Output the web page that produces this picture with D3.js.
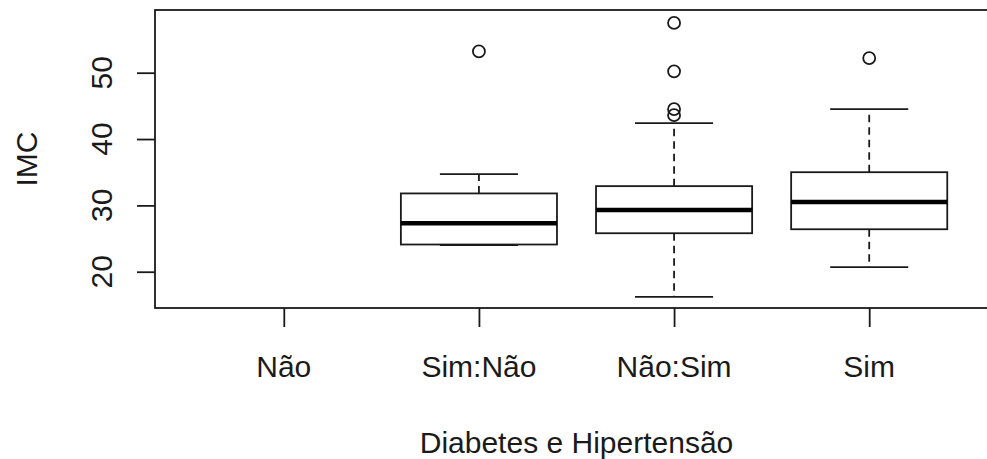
<!DOCTYPE html>
<html>
<head>
<meta charset="utf-8">
<script src="https://cdn.jsdelivr.net/npm/d3@7"></script>
<style>
  body { margin: 0; background: #fff; }
  svg { display: block; }
  text { font-family: "Liberation Sans", Arial, sans-serif; fill: #1a1a1a; }
</style>
</head>
<body>
<div id="chart"></div>
<script>
// data
const categories = ["Não", "Sim:Não", "Não:Sim", "Sim"];
const whiskerLow  = [null, 24.0, 16.2, 20.7];
const q1          = [null, 24.1, 25.8, 26.4];
const median      = [null, 27.3, 29.3, 30.5];
const q3          = [null, 31.8, 32.9, 35.0];
const whiskerHigh = [null, 34.7, 42.4, 44.5];
const outliers    = [[], [53.2], [57.5, 50.2, 44.5, 43.6], [52.2]];
const yTicks = [20, 30, 40, 50];

const width = 987, height = 459;
const plotLeft = 155, plotRight = 998, plotTop = 10, plotBottom = 308;
const ink = "#1a1a1a";
const lw = 1.8;

const svg = d3.select("#chart").append("svg")
  .attr("width", width)
  .attr("height", height);

const x = d3.scaleLinear()
  .domain([0.34, categories.length + 0.66])
  .range([plotLeft, plotRight]);

const y = d3.scaleLinear()
  .domain([14.53, 59.45])
  .range([plotBottom, plotTop]);

const boxW = x(0.8) - x(0);
const capW = boxW / 2;

const groups = categories.map((c, i) => ({
  cat: c, pos: i + 1,
  lo: whiskerLow[i], q1: q1[i], med: median[i], q3: q3[i], hi: whiskerHigh[i],
  out: outliers[i]
}));

const g = svg.append("g");
const filled = groups.filter(d => d.med != null);

// whiskers (dashed)
g.selectAll(".wh-up").data(filled).join("line")
  .attr("x1", d => x(d.pos)).attr("x2", d => x(d.pos))
  .attr("y1", d => y(d.q3)).attr("y2", d => y(d.hi))
  .attr("stroke", ink).attr("stroke-width", lw)
  .attr("stroke-dasharray", "7.5,5");
g.selectAll(".wh-lo").data(filled).join("line")
  .attr("x1", d => x(d.pos)).attr("x2", d => x(d.pos))
  .attr("y1", d => y(d.q1)).attr("y2", d => y(d.lo))
  .attr("stroke", ink).attr("stroke-width", lw)
  .attr("stroke-dasharray", "7.5,5");

// caps
["lo", "hi"].forEach(k => {
  g.selectAll(".cap-" + k).data(filled).join("line")
    .attr("x1", d => x(d.pos) - capW / 2).attr("x2", d => x(d.pos) + capW / 2)
    .attr("y1", d => y(d[k])).attr("y2", d => y(d[k]))
    .attr("stroke", ink).attr("stroke-width", lw);
});

// box
g.selectAll(".box").data(filled).join("rect")
  .attr("x", d => x(d.pos) - boxW / 2)
  .attr("width", boxW)
  .attr("y", d => y(d.q3))
  .attr("height", d => y(d.q1) - y(d.q3))
  .attr("fill", "#fff")
  .attr("stroke", ink).attr("stroke-width", lw);

// median
g.selectAll(".med").data(filled).join("line")
  .attr("x1", d => x(d.pos) - boxW / 2).attr("x2", d => x(d.pos) + boxW / 2)
  .attr("y1", d => y(d.med)).attr("y2", d => y(d.med))
  .attr("stroke", "#000").attr("stroke-width", 4.5);

// outliers
const outPts = groups.flatMap(d => d.out.map(v => ({ pos: d.pos, v })));
g.selectAll(".out").data(outPts).join("circle")
  .attr("cx", d => x(d.pos)).attr("cy", d => y(d.v))
  .attr("r", 6)
  .attr("fill", "none")
  .attr("stroke", ink).attr("stroke-width", lw);

// plot frame
svg.append("rect")
  .attr("x", plotLeft).attr("y", plotTop)
  .attr("width", plotRight - plotLeft).attr("height", plotBottom - plotTop)
  .attr("fill", "none").attr("stroke", ink).attr("stroke-width", lw);

// y axis
svg.append("g")
  .attr("transform", "translate(" + plotLeft + ",0)")
  .call(d3.axisLeft(y).tickValues(yTicks).tickSize(18).tickPadding(0).tickFormat(""))
  .call(a => a.select(".domain").remove())
  .call(a => a.selectAll("line").attr("stroke", ink).attr("stroke-width", lw));

svg.selectAll(".ylab").data(yTicks).join("text")
  .attr("transform", d => "translate(111.5," + y(d) + ") rotate(-90)")
  .attr("text-anchor", "middle")
  .style("font-size", "30px")
  .text(d => d);

// x axis
svg.append("g")
  .attr("transform", "translate(0," + plotBottom + ")")
  .call(d3.axisBottom(x).tickValues(d3.range(1, categories.length + 1)).tickSize(19).tickFormat(""))
  .call(a => a.select(".domain").remove())
  .call(a => a.selectAll("line").attr("stroke", ink).attr("stroke-width", lw));

svg.selectAll(".xlab").data(categories).join("text")
  .attr("x", (d, i) => x(i + 1))
  .attr("y", 377)
  .attr("text-anchor", "middle")
  .style("font-size", "30px")
  .text(d => d);

// axis titles
svg.append("text")
  .attr("x", (plotLeft + plotRight) / 2)
  .attr("y", 453)
  .attr("text-anchor", "middle")
  .style("font-size", "30px")
  .text("Diabetes e Hipertensão");

svg.append("text")
  .attr("transform", "translate(36.5," + (plotTop + plotBottom) / 2 + ") rotate(-90)")
  .attr("text-anchor", "middle")
  .style("font-size", "30px")
  .text("IMC");
</script>
</body>
</html>
